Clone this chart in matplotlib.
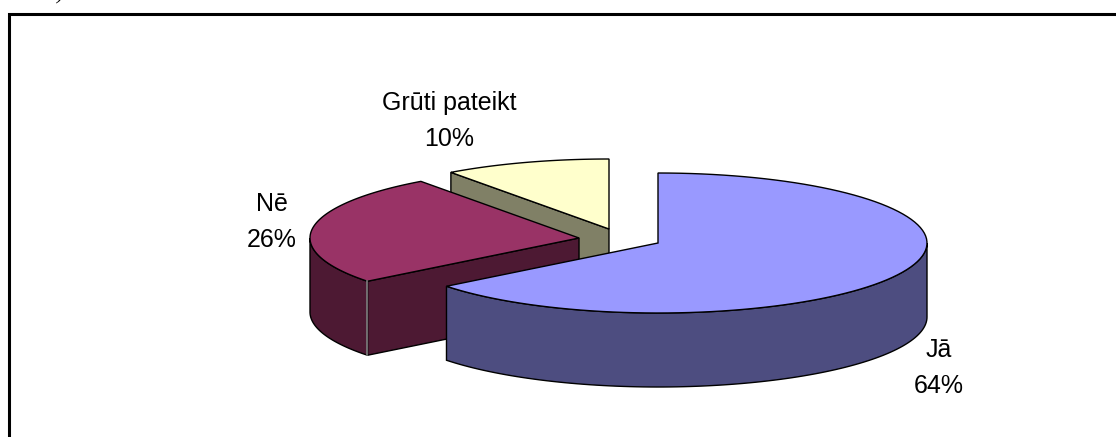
import matplotlib
matplotlib.use('Agg')
import matplotlib.pyplot as plt
import numpy as np

categories = ['Jā', 'Nē', 'Grūti pateikt']
values = [64.4, 25.6, 10.0]

top_colors = ['#9999FF', '#993366', '#FFFFCC']
side_colors = ['#4D4D80', '#4D1933', '#808066']

# exploded centres in pixels
centers = [(658, 243), (579, 238), (609, 229)]
label_pos = [(939, 368), (272, 222), (449, 121)]

rx = 269
ry = 70
depth = 74

plt.rcParams['font.family'] = ['Liberation Sans', 'DejaVu Sans']

fig = plt.figure(figsize=(11.16, 4.37), dpi=100)
ax = fig.add_axes([0, 0, 1, 1])
ax.set_xlim(0, 1116)
ax.set_ylim(437, 0)
ax.axis('off')

# only the top and left of the frame are in the picture
ax.plot([9, 9, 1116], [437, 14, 14], color='black', lw=2.2, solid_joinstyle='miter')
ax.text(60, -1, ')', fontsize=15, family='Liberation Serif', style='italic', ha='center', va='baseline')


def rim(cx, cy, a0, a1):
    t = np.radians(np.linspace(a0, a1, 100))
    return cx + rx * np.sin(t), cy - ry * np.cos(t)


# angles clockwise from 12 o'clock
ends = np.cumsum(values) * 3.6
starts = ends - np.array(values) * 3.6

# back to front: yellow, red, blue
for i in [2, 1, 0]:
    cx, cy = centers[i]
    a0, a1 = starts[i], ends[i]

    # cut face towards the viewer
    if i != 0:
        xe, ye = rim(cx, cy, a0, a0)
        ax.fill([cx, xe[0], xe[0], cx], [cy, ye[0], ye[0] + depth, cy + depth],
                color=side_colors[i], ec='black', lw=1)

    # outer wall, only the front half of the ellipse shows
    w0, w1 = max(a0, 90), min(a1, 270)
    if w1 > w0:
        xw, yw = rim(cx, cy, w0, w1)
        ax.fill(np.r_[xw, xw[::-1]], np.r_[yw, yw[::-1] + depth],
                color=side_colors[i], ec='black', lw=1)
        if i == 1:
            # light edge between wall and cut face
            ax.plot([xw[0], xw[0]], [yw[0], yw[0] + depth], color='#808080', lw=1.2)

    # top of the slice
    xt, yt = rim(cx, cy, a0, a1)
    ax.fill(np.r_[cx, xt], np.r_[cy, yt], color=top_colors[i], ec='black', lw=1)

for cat, val, (lx, ly) in zip(categories, values, label_pos):
    ax.text(lx, ly, f'{cat}\n{val:.0f}%', fontsize=18, ha='center', va='center',
            linespacing=1.65, color='black')

fig.savefig('out.png', dpi=100)
